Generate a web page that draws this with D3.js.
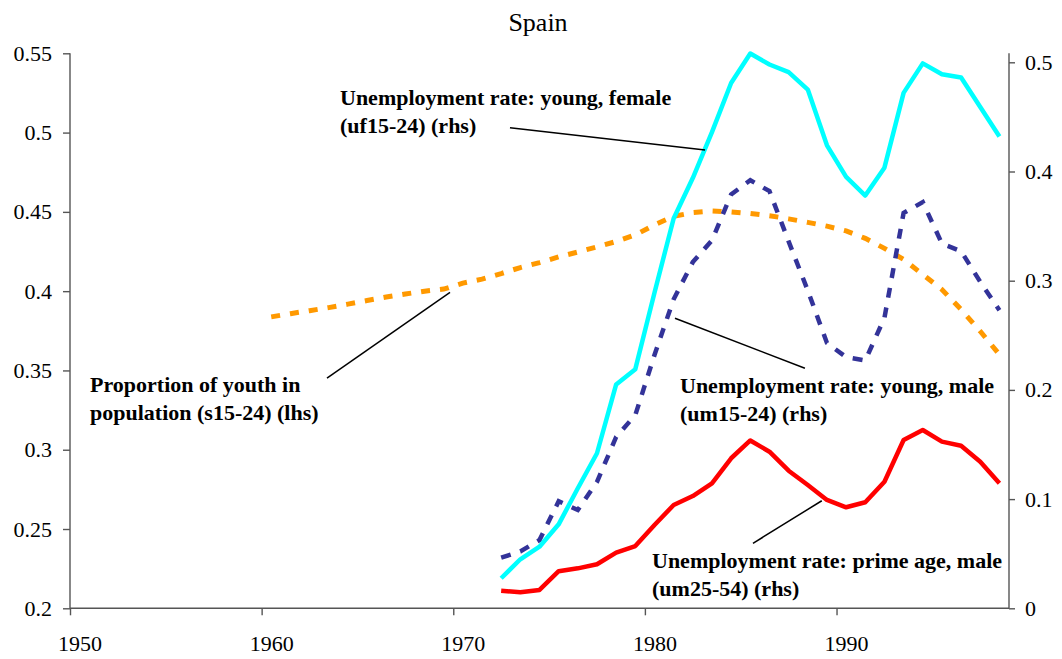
<!DOCTYPE html>
<html>
<head>
<meta charset="utf-8">
<script src="https://cdn.jsdelivr.net/npm/d3@7"></script>
<style>
  html, body { margin: 0; padding: 0; background: #fff; }
  svg { display: block; }
  text { font-family: "Liberation Serif", "Times New Roman", serif; fill: #000; }
</style>
</head>
<body>
<svg id="chart" width="1062" height="659"></svg>
<script>
// ---- Data ----
const yearsUnemp = [1972,1973,1974,1975,1976,1977,1978,1979,1980,1981,1982,1983,1984,1985,1986,1987,1988,1989,1990,1991,1992,1993,1994,1995,1996,1997,1998];
const uf1524 = [0.0275,0.0449,0.0564,0.0769,0.110,0.142,0.205,0.219,0.289,0.357,0.394,0.436,0.481,0.508,0.498,0.491,0.475,0.424,0.395,0.378,0.4035,0.472,0.499,0.489,0.486,0.459,0.432];
const um1524 = [0.0464,0.052,0.0625,0.098,0.090,0.1157,0.157,0.177,0.232,0.283,0.317,0.337,0.379,0.392,0.382,0.336,0.291,0.243,0.230,0.227,0.266,0.362,0.372,0.334,0.327,0.299,0.273];
const um2554 = [0.0161,0.0147,0.0168,0.034,0.0366,0.0403,0.051,0.057,0.0763,0.0946,0.1028,0.1145,0.1374,0.1537,0.1434,0.126,0.1129,0.0992,0.0925,0.0971,0.1159,0.1541,0.1633,0.1526,0.1489,0.1342,0.1145];
const yearsPop = [1960,1961,1962,1963,1964,1965,1966,1967,1968,1969,1970,1971,1972,1973,1974,1975,1976,1977,1978,1979,1980,1981,1982,1983,1984,1985,1986,1987,1988,1989,1990,1991,1992,1993,1994,1995,1996,1997,1998];
const s1524 = [0.3838,0.3858,0.3877,0.3896,0.3918,0.3941,0.3963,0.3982,0.4000,0.4013,0.4051,0.4076,0.4111,0.4149,0.4180,0.4216,0.4247,0.4279,0.4313,0.4355,0.4418,0.4472,0.4495,0.4505,0.4500,0.4490,0.4476,0.4456,0.4434,0.4410,0.4380,0.4333,0.4270,0.4200,0.4105,0.4010,0.3884,0.3747,0.3600];
const xTickYears = [1950,1960,1970,1980,1990];
const leftTicks = [0.2,0.25,0.3,0.35,0.4,0.45,0.5,0.55];
const rightTicks = [0,0.1,0.2,0.3,0.4,0.5];

// ---- Layout ----
const svg = d3.select("#chart");
const L = 70, R = 1009, T = 53.3, B = 608.3;
const x = d3.scaleLinear().domain([1950, 1999]).range([L, R]);
const yL = d3.scaleLinear().domain([0.2, 0.55]).range([B, T]);
const yR = d3.scaleLinear().domain([0, 0.5 * (B - T) / 546]).range([B, T]);
const mid = 0.5; // observations sit in the middle of each year

// Title
svg.append("text").attr("x", 538).attr("y", 31).attr("text-anchor", "middle")
  .style("font-size", "26px").text("Spain");

const axisColor = "#555";
// Left axis
const gL = svg.append("g").attr("transform", `translate(${L},0)`)
  .call(d3.axisLeft(yL).tickValues(leftTicks).tickSize(7).tickPadding(11).tickFormat(d3.format("")));
// Right axis
const gR = svg.append("g").attr("transform", `translate(${R},0)`)
  .call(d3.axisRight(yR).tickValues(rightTicks).tickSize(6).tickPadding(10).tickFormat(d => d === 0 ? "0" : d3.format(".1f")(d)));
// Bottom axis
const gB = svg.append("g").attr("transform", `translate(0,${B})`)
  .call(d3.axisBottom(x).tickValues(xTickYears).tickSize(7).tickFormat(d3.format("d")));
gB.selectAll(".tick text").attr("x", x(1950 + mid) - x(1950)).attr("y", 27);

[gL, gR, gB].forEach(g => {
  g.selectAll(".domain").attr("stroke", axisColor).attr("stroke-width", 1.4);
  g.selectAll(".tick line").attr("stroke", axisColor).attr("stroke-width", 1.4);
  g.selectAll(".tick text").style("font-size", "22px")
    .style("font-family", '"Liberation Serif", "Times New Roman", serif').attr("fill", "#000");
});
gB.select(".domain").attr("d", `M${L},0H${R}`);
gL.select(".domain").attr("d", `M-7,${T}H0V${B}`).attr("d", `M0,${T}V${B}`);
gR.select(".domain").attr("d", `M0,${T}V${B}`);

// ---- Lines ----
const lineR = d3.line().x((d, i) => x(yearsUnemp[i] + mid)).y(d => yR(d));
const lineP = d3.line().x((d, i) => x(yearsPop[i] + mid)).y(d => yL(d));

svg.append("path").datum(s1524).attr("d", lineP).attr("fill", "none")
  .attr("stroke", "#FF9900").attr("stroke-width", 5).attr("stroke-dasharray", "9,10");
svg.append("path").datum(um1524).attr("d", lineR).attr("fill", "none")
  .attr("stroke", "#333399").attr("stroke-width", 4.5).attr("stroke-dasharray", "10,10");
svg.append("path").datum(uf1524).attr("d", lineR).attr("fill", "none")
  .attr("stroke", "#00FFFF").attr("stroke-width", 4.5).attr("stroke-linejoin", "round");
svg.append("path").datum(um2554).attr("d", lineR).attr("fill", "none")
  .attr("stroke", "#FF0000").attr("stroke-width", 4.5).attr("stroke-linejoin", "round");

// ---- Annotations ----
const notes = [
  { lines: ["Unemployment rate: young, female", "(uf15-24) (rhs)"], tx: 340, ty: 105,
    from: [1972.96, 0.4401], to: [1983.14, 0.4197], axis: "R" },
  { lines: ["Proportion of youth in", "population (s15-24) (lhs)"], tx: 90, ty: 392,
    from: [1963.41, 0.3452], to: [1969.83, 0.3993], axis: "L" },
  { lines: ["Unemployment rate: young, male", "(um15-24) (rhs)"], tx: 680, ty: 393,
    from: [1981.57, 0.2656], to: [1988.35, 0.2198], axis: "R" },
  { lines: ["Unemployment rate: prime age, male", "(um25-54) (rhs)"], tx: 652, ty: 568,
    from: [1985.64, 0.0595], to: [1989.23, 0.0985], axis: "R" }
];
notes.forEach(n => {
  const ys = n.axis === "R" ? yR : yL;
  svg.append("line")
    .attr("x1", x(n.from[0])).attr("y1", ys(n.from[1]))
    .attr("x2", x(n.to[0])).attr("y2", ys(n.to[1]))
    .attr("stroke", "#000").attr("stroke-width", 1.5);
  const t = svg.append("text").attr("x", n.tx).attr("y", n.ty)
    .style("font-size", "22px").style("font-weight", "bold");
  n.lines.forEach((s, i) => t.append("tspan").attr("x", n.tx).attr("dy", i === 0 ? 0 : 28).text(s));
});
</script>
</body>
</html>
